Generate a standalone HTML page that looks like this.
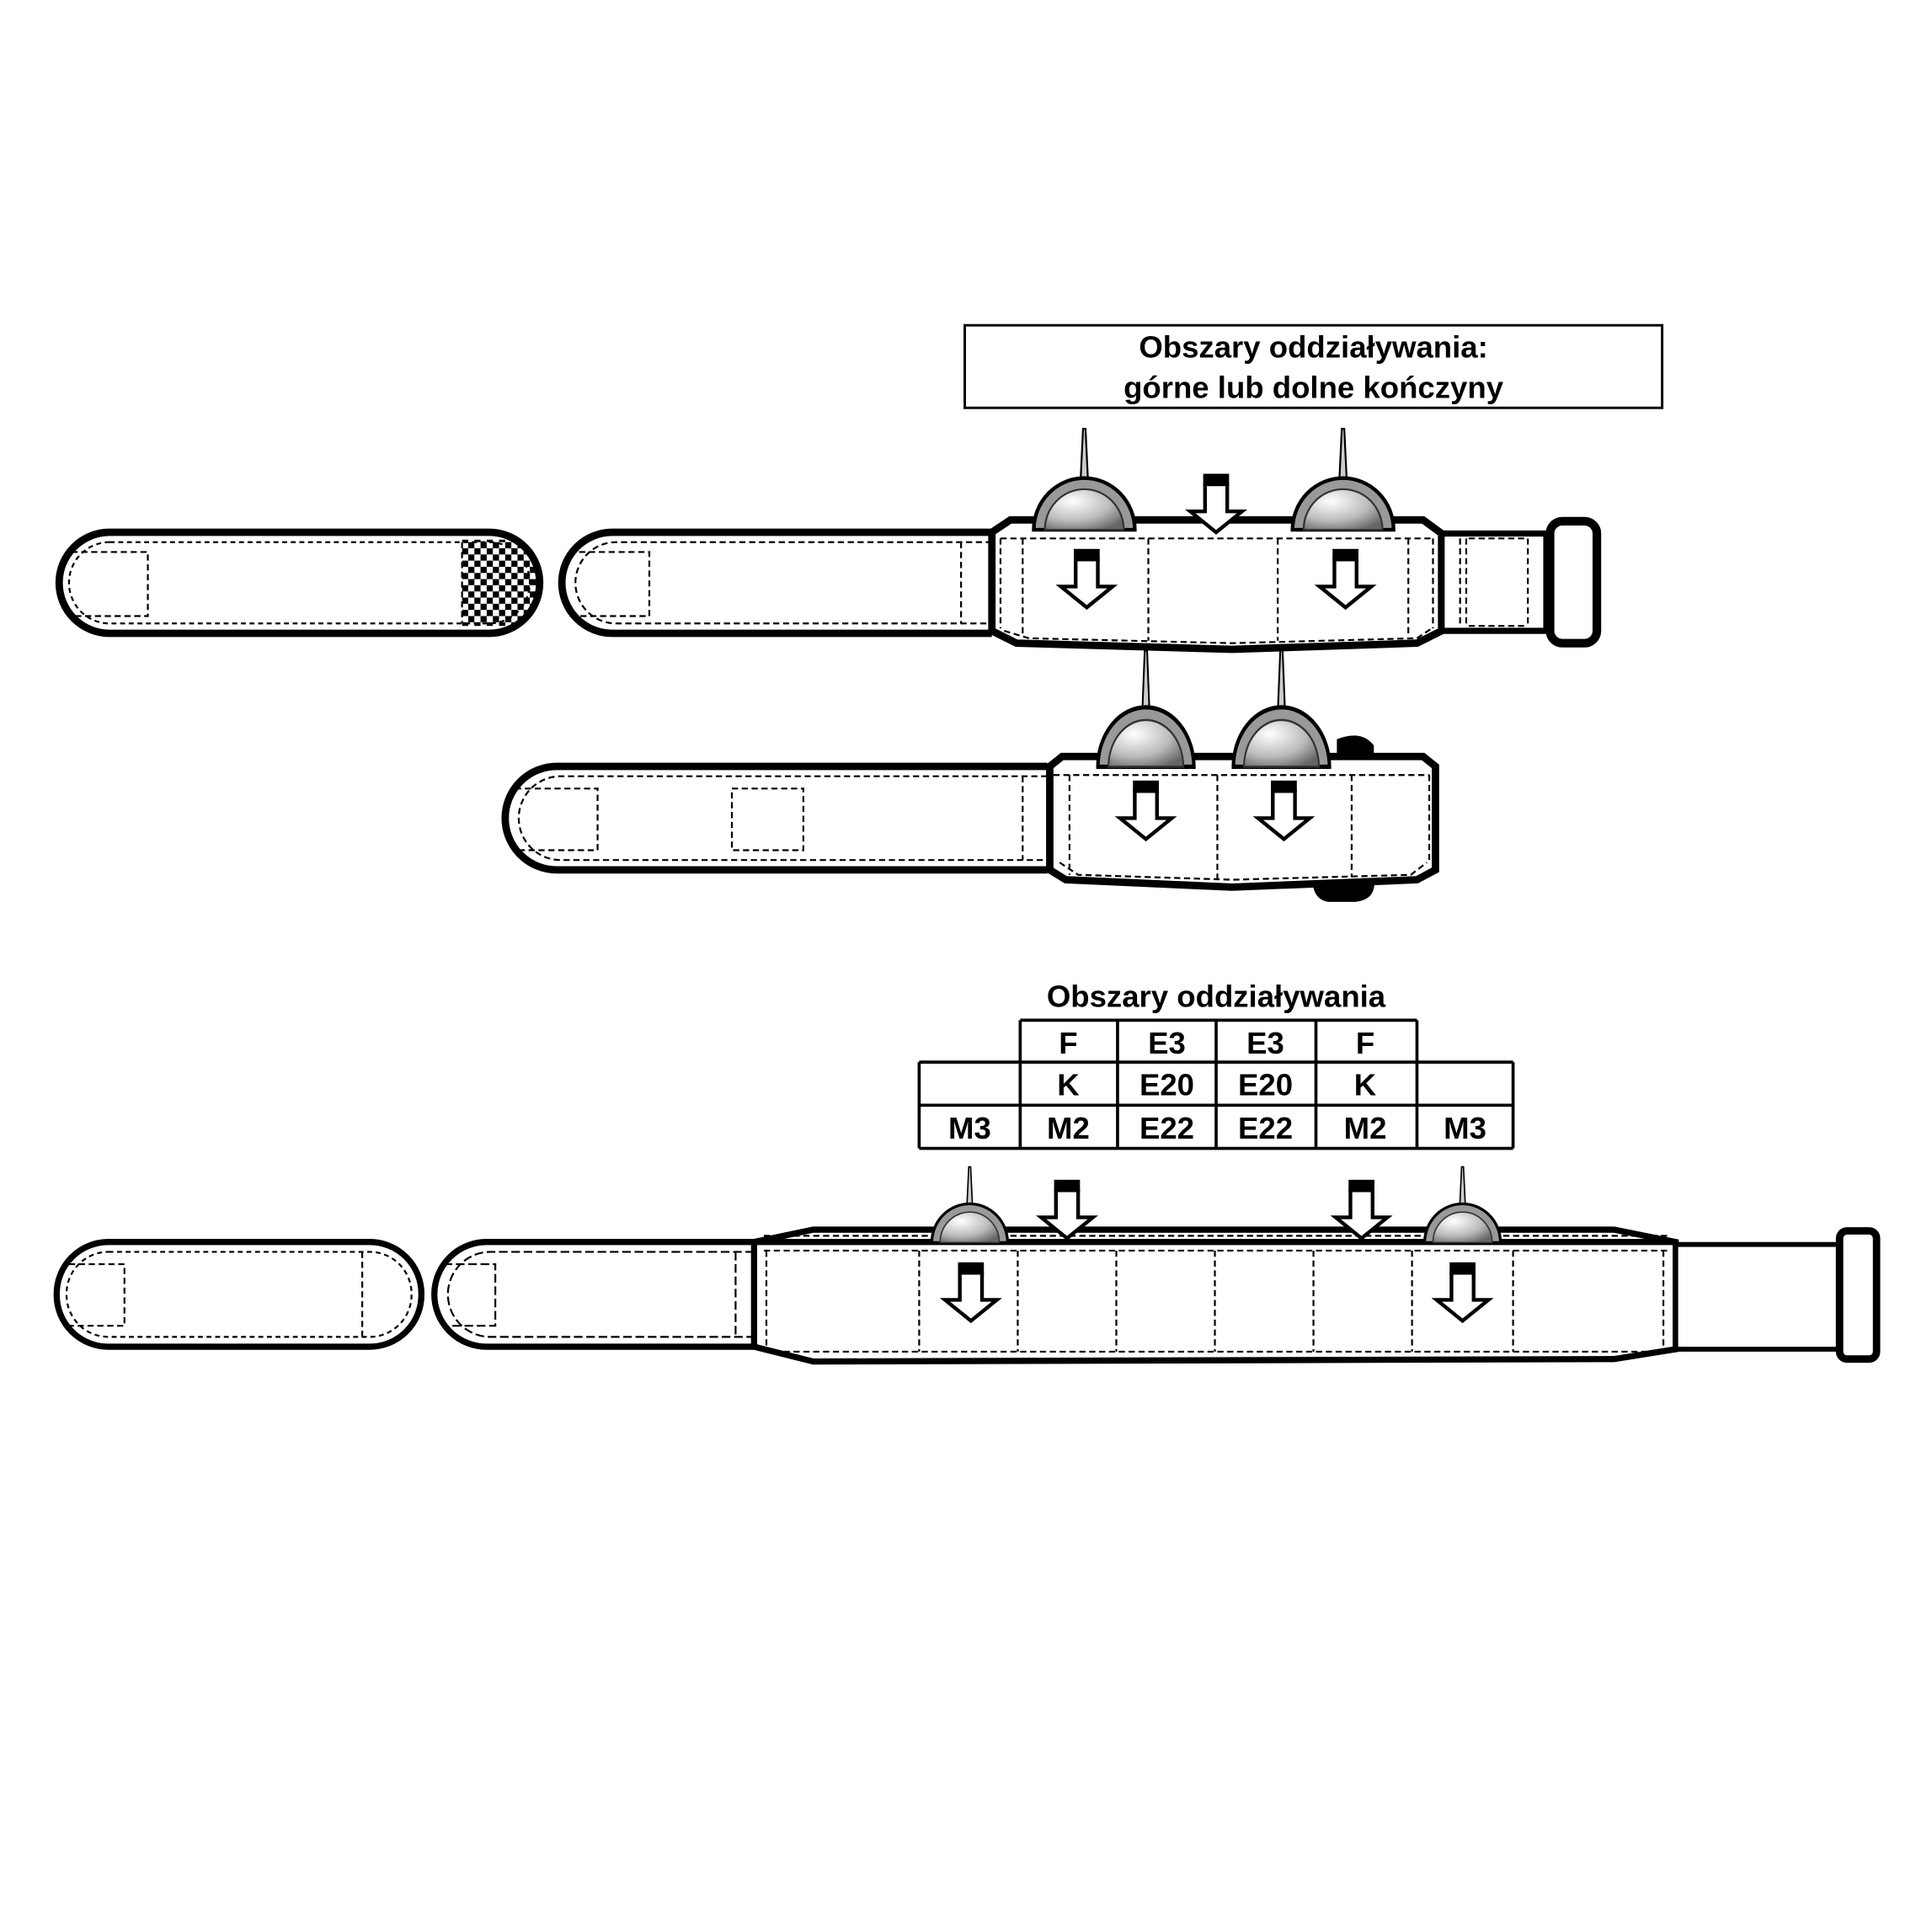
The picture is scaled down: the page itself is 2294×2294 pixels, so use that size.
<!DOCTYPE html>
<html><head><meta charset="utf-8"><style>html,body{margin:0;padding:0;background:#fff}svg{display:block}</style></head>
<body>
<svg width="2294" height="2294" viewBox="0 0 1568 1568" xmlns="http://www.w3.org/2000/svg" font-family="Liberation Sans, Arial, sans-serif">
<defs>
<radialGradient id="g" cx="0.35" cy="0.3" r="0.8"><stop offset="0" stop-color="#fff"/><stop offset="0.6" stop-color="#bbb"/><stop offset="1" stop-color="#666"/></radialGradient>
<g id="el">
<polygon points="-3,-38 3,-38 1,-80 -1,-80" fill="#ccc" stroke="#000" stroke-width="1.5"/>
<path d="M-41,2 A41,42 0 0 1 41,2 Z" fill="#999" stroke="#000" stroke-width="3"/>
<path d="M-32,2 A32,33 0 0 1 32,2 Z" fill="url(#g)" stroke="#333" stroke-width="1.5"/>
</g>
<g id="ar">
<path d="M-9,8 L9,8 L9,30 L21,30 L0,47 L-21,30 L-9,30 Z" fill="#fff" stroke="#000" stroke-width="3" stroke-linejoin="miter"/>
<rect x="-10" y="0" width="20" height="9" fill="#000"/>
</g>
<pattern id="chk" width="10" height="10" patternUnits="userSpaceOnUse"><rect width="5" height="5" fill="#000"/><rect x="5" y="5" width="5" height="5" fill="#000"/></pattern>
<clipPath id="pill1"><rect x="50" y="434" width="386" height="78" rx="39"/></clipPath>
</defs>
<g fill="none" stroke="#000">
<!-- ===== TOP ROW ===== -->
<rect x="783" y="264" width="566" height="67" fill="#fff" stroke-width="2"/>
<rect x="48" y="432" width="390" height="82" rx="41" fill="#fff" stroke-width="6"/>
<rect x="375" y="438" width="65" height="70" fill="url(#chk)" stroke="none" clip-path="url(#pill1)"/>
<rect x="56" y="440" width="374" height="66" rx="33" stroke-width="1.5" stroke-dasharray="4,3"/>
<path d="M58,448 H120 V500 H58 M375,440 V506" stroke-width="1.5" stroke-dasharray="5,3"/>
<path d="M805,432 H497 A41,41 0 0 0 497,514 H805" fill="#fff" stroke-width="6"/>
<path d="M805,440 H500 A33,33 0 0 0 500,506 H805 M462,448 H527 V500 H462 M780,440 V506" stroke-width="1.5" stroke-dasharray="5,3"/>
<path d="M805,432 L820,422 L1155,422 L1170,433 L1170,512 L1150,522 L1000,527 L825,522 L805,512 Z" fill="#fff" stroke-width="6"/>
<path d="M812,437 H1163 M815,512 L835,518 L1000,522 L1150,518 L1162,510 M830,437 V515 M932,437 V520 M1037,437 V520 M1143,437 V515 M812,437 V510 M1163,437 V510" stroke-width="1.5" stroke-dasharray="5,3"/>
<rect x="1170" y="433" width="85" height="79" fill="#fff" stroke-width="5"/>
<path d="M1185,437 V508 M1190,437 V508 M1240,437 V508 M1192,437 H1238 M1192,508 H1238" stroke-width="1.5" stroke-dasharray="5,3"/>
<rect x="1258" y="423" width="38" height="99" rx="10" fill="#fff" stroke-width="7"/>
<use href="#el" x="880" y="428"/>
<use href="#el" x="1090" y="428"/>
<path d="M920,422 H1050" stroke-width="5"/>
<use href="#ar" x="987" y="385"/>
<use href="#ar" x="882" y="446"/>
<use href="#ar" x="1092" y="446"/>
<!-- ===== MIDDLE ROW ===== -->
<path d="M1085,612 L1085,600 Q1105,592 1115,605 L1115,625 Z" fill="#000" stroke="none"/>
<path d="M1065,712 L1115,712 Q1118,730 1100,732 L1078,732 Q1065,730 1065,712 Z" fill="#000" stroke="none"/>
<path d="M850,622 H452 A42,42 0 0 0 452,706 H850" fill="#fff" stroke-width="6"/>
<path d="M850,630 H455 A34,34 0 0 0 455,698 H850 M418,640 H485 V690 H418 M594,640 H652 V690 H594 Z M830,630 V698" stroke-width="1.5" stroke-dasharray="5,3"/>
<path d="M852,622 L862,614 L1155,614 L1165,622 L1165,706 L1150,714 L1000,720 L865,714 L852,706 Z" fill="#fff" stroke-width="6"/>
<path d="M855,629 H1160 M860,700 L875,710 L1000,714 L1145,710 L1158,700 M868,629 V710 M988,629 V714 M1097,629 V712 M1160,629 V700" stroke-width="1.5" stroke-dasharray="5,3"/>
<g transform="translate(930,620) scale(0.95,1.15)"><use href="#el"/></g>
<g transform="translate(1040,620) scale(0.95,1.15)"><use href="#el"/></g>
<use href="#ar" x="930" y="634"/>
<use href="#ar" x="1042" y="634"/>
<!-- ===== TABLE ===== -->
<path d="M828,828 H1150 M746,862 H1228 M746,897 H1228 M746,932 H1228 M746,862 V932 M828,828 V932 M907,828 V932 M987,828 V932 M1068,828 V932 M1150,828 V932 M1228,862 V932" stroke-width="2.5"/>
<!-- ===== BOTTOM ROW ===== -->
<rect x="46" y="1008" width="296" height="85" rx="42" fill="#fff" stroke-width="5"/>
<rect x="54" y="1016" width="280" height="69" rx="34" stroke-width="1.5" stroke-dasharray="4,3"/>
<path d="M56,1026 H101 V1076 H56 M294,1016 V1085" stroke-width="1.5" stroke-dasharray="5,3"/>
<path d="M612,1008 H395 A42,42 0 0 0 395,1093 H612" fill="#fff" stroke-width="5"/>
<path d="M612,1016 H398 A34,34 0 0 0 398,1085 H612 M360,1026 H402 V1076 H360 M597,1016 V1085" stroke-width="1.5" stroke-dasharray="7,3"/>
<path d="M612,1008 L660,998 L1310,998 L1360,1008 L1360,1095 L1310,1103 L660,1105 L612,1093 Z" fill="#fff" stroke-width="5"/>
<path d="M612,1008 H1360" stroke-width="5"/>
<path d="M620,1003 H1355 M620,1015 H1355 M620,1097 H1355 M622,1015 V1097 M746,1015 V1097 M826,1015 V1097 M906,1015 V1097 M986,1015 V1097 M1066,1015 V1097 M1146,1015 V1097 M1228,1015 V1097 M1350,1015 V1095" stroke-width="1.5" stroke-dasharray="5,3"/>
<rect x="1360" y="1010" width="132" height="85" fill="#fff" stroke-width="4"/>
<rect x="1493" y="999" width="30" height="104" rx="6" fill="#fff" stroke-width="6"/>
<g transform="translate(787,1007) scale(0.75,0.75)"><use href="#el"/></g>
<g transform="translate(1187,1007) scale(0.75,0.75)"><use href="#el"/></g>
<use href="#ar" x="866" y="958"/>
<use href="#ar" x="1105" y="958"/>
<use href="#ar" x="788" y="1025"/>
<use href="#ar" x="1187" y="1025"/>
</g>
<g font-weight="bold" font-size="25" text-anchor="middle" fill="#000">
<text x="1066" y="290">Obszary oddziaływania:</text>
<text x="1066" y="323">górne lub dolne kończyny</text>
<text x="987" y="817">Obszary oddziaływania</text>
<text x="867" y="855">F</text><text x="947" y="855">E3</text><text x="1027" y="855">E3</text><text x="1108" y="855">F</text>
<text x="867" y="889">K</text><text x="947" y="889">E20</text><text x="1027" y="889">E20</text><text x="1108" y="889">K</text>
<text x="787" y="924">M3</text><text x="867" y="924">M2</text><text x="947" y="924">E22</text><text x="1027" y="924">E22</text><text x="1108" y="924">M2</text><text x="1189" y="924">M3</text>
</g>
</svg>
</body></html>
